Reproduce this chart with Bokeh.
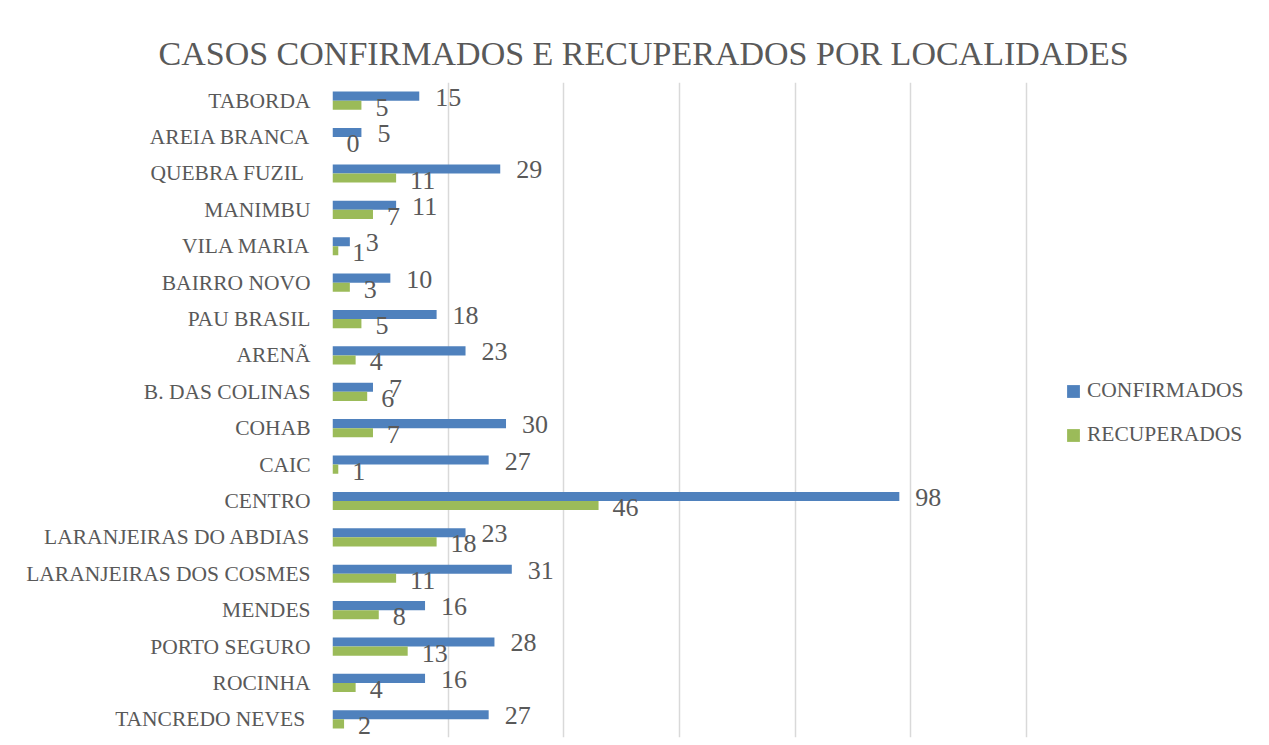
from bokeh.plotting import figure
from bokeh.models import ColumnDataSource, FactorRange, FixedTicker, Legend, LegendItem
from bokeh.transform import dodge
from bokeh.core.properties import value
from bokeh.embed import file_html
from bokeh.resources import INLINE

localidades = ["TABORDA", "AREIA BRANCA", "QUEBRA FUZIL ", "MANIMBU", "VILA MARIA",
               "BAIRRO NOVO", "PAU BRASIL", "ARENÃ", "B. DAS COLINAS", "COHAB", "CAIC",
               "CENTRO", "LARANJEIRAS DO ABDIAS", "LARANJEIRAS DOS COSMES", "MENDES",
               "PORTO SEGURO", "ROCINHA", "TANCREDO NEVES "]
confirmados = [15, 5, 29, 11, 3, 10, 18, 23, 7, 30, 27, 98, 23, 31, 16, 28, 16, 27]
recuperados = [5, 0, 11, 7, 1, 3, 5, 4, 6, 7, 1, 46, 18, 11, 8, 13, 4, 2]
grid_ticks = [0, 20, 40, 60, 80, 100, 120]
title_text = "CASOS CONFIRMADOS E RECUPERADOS POR LOCALIDADES"

BLUE = "#4F81BD"
GREEN = "#9BBB59"
TXT = "#595959"
GRID = "#D9D9D9"
FONT = "Liberation Serif"

src = ColumnDataSource(dict(
    cat=localidades,
    conf=confirmados,
    rec=recuperados,
    conf_lbl=[str(v) for v in confirmados],
    rec_lbl=[str(v) for v in recuperados],
))

p = figure(width=1269, height=745, output_backend="svg", toolbar_location=None,
           x_range=(0, 162), y_range=FactorRange(factors=list(reversed(localidades))),
           min_border_left=332, min_border_right=0, min_border_top=82, min_border_bottom=8)
p.outline_line_color = None
p.background_fill_color = "white"
p.border_fill_color = "white"

p.title.text = title_text
p.title.align = "left"
p.title.offset = -174
p.title.text_font = FONT
p.title.text_font_size = "34px"
p.title.text_font_style = "normal"
p.title.text_color = TXT
p.title.standoff = 21

r_conf = p.hbar(y=dodge("cat", 0.125, range=p.y_range), right="conf", left=0, height=0.25,
                source=src, fill_color=BLUE, line_color=None)
r_rec = p.hbar(y=dodge("cat", -0.125, range=p.y_range), right="rec", left=0, height=0.25,
               source=src, fill_color=GREEN, line_color=None)

p.text(x="conf", y=dodge("cat", 0.125, range=p.y_range), text="conf_lbl", source=src,
       x_offset=16, y_offset=1, text_baseline="middle", text_align="left",
       text_font=value(FONT), text_font_size="26px", text_color=TXT)
p.text(x="rec", y=dodge("cat", -0.125, range=p.y_range), text="rec_lbl", source=src,
       x_offset=14, y_offset=2, text_baseline="middle", text_align="left",
       text_font=value(FONT), text_font_size="26px", text_color=TXT)

p.xaxis.visible = False
p.xgrid.ticker = FixedTicker(ticks=grid_ticks)
p.xgrid.grid_line_color = GRID
p.xgrid.grid_line_width = 1.5
p.ygrid.grid_line_color = None

ax = p.yaxis[0]
ax.axis_line_color = None
ax.major_tick_line_color = None
ax.minor_tick_line_color = None
ax.major_label_standoff = 16
ax.major_label_text_font = FONT
ax.major_label_text_font_size = "21.5px"
ax.major_label_text_color = TXT

legend = Legend(items=[LegendItem(label="CONFIRMADOS", renderers=[r_conf]),
                       LegendItem(label="RECUPERADOS", renderers=[r_rec])],
                location=(733, 290), orientation="vertical",
                glyph_width=16, glyph_height=16, label_height=22, label_standoff=6,
                spacing=19, padding=0, margin=0,
                border_line_color=None, background_fill_alpha=0,
                label_text_font=FONT, label_text_font_size="21.5px", label_text_color=TXT)
p.add_layout(legend)

open("out.html", "w").write(file_html(p, INLINE))
